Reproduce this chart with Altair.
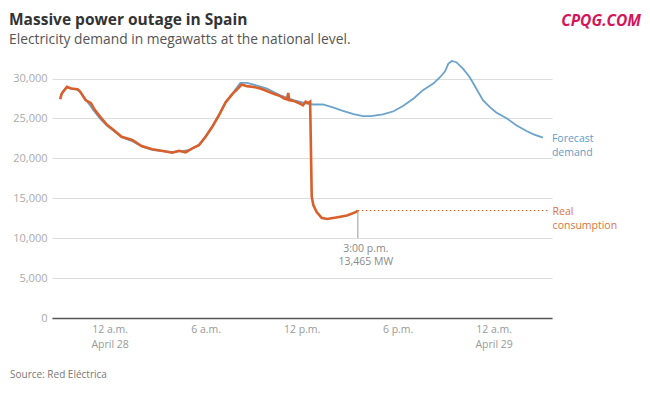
import altair as alt
import pandas as pd

# ---------------- data ----------------
REAL_TIMES = [
    "04-27 20:55", "04-27 21:00", "04-27 21:20", "04-27 21:35", "04-27 22:00",
    "04-27 22:10", "04-27 22:30", "04-27 22:50", "04-27 23:05", "04-27 23:25",
    "04-27 23:50", "04-28 00:15", "04-28 00:45", "04-28 01:25", "04-28 02:00",
    "04-28 02:40", "04-28 03:15", "04-28 03:55", "04-28 04:20", "04-28 04:45",
    "04-28 05:10", "04-28 05:35", "04-28 06:00", "04-28 06:25", "04-28 06:50",
    "04-28 07:15", "04-28 07:40", "04-28 08:00", "04-28 08:15", "04-28 08:35",
    "04-28 09:00", "04-28 09:25", "04-28 09:50", "04-28 10:15", "04-28 10:40",
    "04-28 10:55", "04-28 11:05", "04-28 11:10", "04-28 11:13", "04-28 11:30",
    "04-28 11:55", "04-28 12:05", "04-28 12:15", "04-28 12:25", "04-28 12:32",
    "04-28 12:38", "04-28 12:44", "04-28 12:56", "04-28 13:15", "04-28 13:35",
    "04-28 14:10", "04-28 14:50", "04-28 15:25", "04-28 15:31",
]
REAL_MW = [
    27400, 28100, 28950, 28750, 28650,
    28350, 27300, 26900, 26050, 25200,
    24200, 23550, 22700, 22300, 21550,
    21150, 20950, 20700, 20950, 20750,
    21250, 21650, 22700, 23950, 25400,
    27000, 28050, 28700, 29250, 29050,
    28950, 28750, 28450, 28100, 27800,
    27500, 27400, 28200, 27300, 27200,
    26850, 26650, 27100, 26950, 27100,
    15200, 14150, 13300, 12550, 12400,
    12600, 12850, 13300, 13465,
]

FORECAST_TIMES = [
    "04-27 20:55", "04-27 21:05", "04-27 21:20", "04-27 21:40", "04-27 22:05",
    "04-27 22:30", "04-27 23:00", "04-27 23:25", "04-27 23:50", "04-28 00:15",
    "04-28 00:45", "04-28 01:25", "04-28 02:00", "04-28 02:40", "04-28 03:15",
    "04-28 03:55", "04-28 04:30", "04-28 05:00", "04-28 05:35", "04-28 06:00",
    "04-28 06:25", "04-28 06:50", "04-28 07:15", "04-28 07:40", "04-28 08:10",
    "04-28 08:35", "04-28 09:10", "04-28 09:50", "04-28 10:40", "04-28 11:30",
    "04-28 12:20", "04-28 12:45", "04-28 13:20", "04-28 14:00", "04-28 14:35",
    "04-28 15:15", "04-28 15:50", "04-28 16:20", "04-28 17:05", "04-28 17:45",
    "04-28 18:20", "04-28 19:00", "04-28 19:35", "04-28 20:15", "04-28 20:40",
    "04-28 20:58", "04-28 21:10", "04-28 21:23", "04-28 21:40", "04-28 22:05",
    "04-28 22:30", "04-28 22:55", "04-28 23:20", "04-28 23:45", "04-29 00:10",
    "04-29 00:50", "04-29 01:25", "04-29 02:05", "04-29 02:30", "04-29 03:05",
]
FORECAST_MW = [
    27600, 28400, 28900, 28750, 28550,
    27400, 26000, 24950, 24100, 23450,
    22650, 22150, 21500, 21050, 20900,
    20800, 20900, 21050, 21700, 22750,
    24000, 25450, 27050, 28100, 29450,
    29450, 29150, 28750, 27900, 27300,
    26850, 26750, 26750, 26350, 25950,
    25550, 25300, 25300, 25500, 25900,
    26550, 27500, 28550, 29400, 30200,
    30900, 31850, 32200, 32050, 31250,
    30200, 28750, 27300, 26450, 25750,
    25000, 24150, 23400, 23000, 22600,
]

Y_TICKS = [0, 5000, 10000, 15000, 20000, 25000, 30000]
X_TICKS = ["04-28 00:00", "04-28 06:00", "04-28 12:00", "04-28 18:00", "04-29 00:00"]
X_START, X_END = "04-27 20:24", "04-29 03:39"
Y_MAX = 32200

ANNOT_TIME = "04-28 15:31"
ANNOT_MW = 13465
ANNOT_FLOOR_MW = 10000
DOTTED_END = "04-29 03:30"
ANNOT_TEXT = ["3:00 p.m.", "13,465 MW"]
FORECAST_LABEL = ["Forecast", "demand"]
REAL_LABEL = ["Real", "consumption"]

TITLE = "Massive power outage in Spain"
SUBTITLE = "Electricity demand in megawatts at the national level."
SOURCE = "Source: Red Eléctrica"
WATERMARK = "CPQG.COM"

ORANGE = "#d95f2b"
BLUE = "#6ba3cc"
FONT = "Open Sans"


def iso(s):
    return f"2025-{s[:5]}T{s[6:]}:00Z"


def dt(s):
    m, rest = s.split("-")
    d, hm = rest.split(" ")
    h, mi = hm.split(":")
    return alt.DateTime(year=2025, month=int(m), date=int(d),
                        hours=int(h), minutes=int(mi), utc=True)


real_df = pd.DataFrame({"t": [iso(s) for s in REAL_TIMES], "mw": REAL_MW})
fc_df = pd.DataFrame({"t": [iso(s) for s in FORECAST_TIMES], "mw": FORECAST_MW})
annot_df = pd.DataFrame({"t": [iso(ANNOT_TIME)], "t2": [iso(DOTTED_END)],
                         "mw": [ANNOT_MW], "floor": [ANNOT_FLOOR_MW]})
fc_end_df = fc_df.tail(1)
one_df = pd.DataFrame({"a": [0]})

label_expr = (
    "utchours(datum.value) == 0 ? ['12 a.m.', 'April ' + utcdate(datum.value)] : "
    "utchours(datum.value) == 6 ? '6 a.m.' : "
    "utchours(datum.value) == 12 ? '12 p.m.' : '6 p.m.'"
)

x_enc = alt.X(
    "t:T",
    title=None,
    scale=alt.Scale(type="utc", domain=[dt(X_START), dt(X_END)]),
    axis=alt.Axis(
        values=[dt(s) for s in X_TICKS],
        labelExpr=label_expr,
        grid=False, ticks=False,
        domainColor="#555555", domainWidth=1.3,
        labelColor="#999999", labelFont=FONT, labelFontSize=10.5,
        labelPadding=6, labelLineHeight=15.5,
    ),
)
y_enc = alt.Y(
    "mw:Q",
    title=None,
    scale=alt.Scale(domain=[0, Y_MAX], nice=False),
    axis=alt.Axis(
        values=Y_TICKS,
        labelExpr="format(datum.value, ',')",
        grid=True, gridColor="#dddddd", gridWidth=1,
        domain=False, ticks=False,
        labelColor="#aaaaaa", labelFont=FONT, labelFontSize=11,
        labelPadding=5,
    ),
)

forecast = alt.Chart(fc_df).mark_line(color=BLUE, strokeWidth=1.8).encode(x=x_enc, y=y_enc)
real = alt.Chart(real_df).mark_line(color=ORANGE, strokeWidth=2.6).encode(x="t:T", y="mw:Q")

dotted = alt.Chart(annot_df).mark_rule(color=ORANGE, strokeWidth=1, strokeDash=[1.5, 2.5]).encode(
    x="t:T", x2="t2", y="mw:Q"
)
vrule = alt.Chart(annot_df).mark_rule(color="#999999", strokeWidth=1).encode(
    x="t:T", y="mw:Q", y2="floor"
)
annot_text = alt.Chart(annot_df).mark_text(
    align="center", baseline="top", dx=8, dy=6, font=FONT, fontSize=10.5,
    color="#8a8a8a", lineHeight=12.5,
).encode(x="t:T", y="floor:Q", text=alt.value(ANNOT_TEXT))

fc_label = alt.Chart(fc_end_df).mark_text(
    align="left", baseline="middle", dx=9, dy=1, font=FONT, fontSize=10.5,
    color="#5f9cc9", lineHeight=14,
).encode(x="t:T", y="mw:Q", text=alt.value(FORECAST_LABEL))

real_label = alt.Chart(annot_df).mark_text(
    align="left", baseline="middle", dx=3, dy=1.5, font=FONT, fontSize=10.5,
    color="#d9743d", lineHeight=13.5,
).encode(x="t2:T", y="mw:Q", text=alt.value(REAL_LABEL))

# chart texts (title, subtitle, source, watermark), positioned in pixels
title = alt.Chart(one_df).mark_text(
    align="left", baseline="alphabetic", font=FONT, fontSize=15.5,
    fontWeight="bold", color="#333333",
).encode(x=alt.value(-43), y=alt.value(-36), text=alt.value(TITLE))

subtitle = alt.Chart(one_df).mark_text(
    align="left", baseline="alphabetic", font=FONT, fontSize=13.8,
    color="#555555",
).encode(x=alt.value(-43), y=alt.value(-17), text=alt.value(SUBTITLE))

source = alt.Chart(one_df).mark_text(
    align="left", baseline="middle", font=FONT, fontSize=10, color="#777777",
).encode(x=alt.value(-42), y=alt.value(314), text=alt.value(SOURCE))

watermark = alt.Chart(one_df).mark_text(
    align="right", baseline="alphabetic", font=FONT, fontSize=15.5,
    fontWeight="bold", fontStyle="italic", color="#d4155a",
).encode(x=alt.value(589), y=alt.value(-35.5), text=alt.value(WATERMARK))

chart = alt.layer(
    forecast, real, dotted, vrule, annot_text, fc_label, real_label,
    title, subtitle, source, watermark,
).properties(
    width=500,
    height=257,
    autosize="none",
    padding={"left": 44, "top": 53, "right": 90, "bottom": 68},
).configure_view(stroke=None)

chart.save("out.html", embed_options={"renderer": "svg", "actions": False})
